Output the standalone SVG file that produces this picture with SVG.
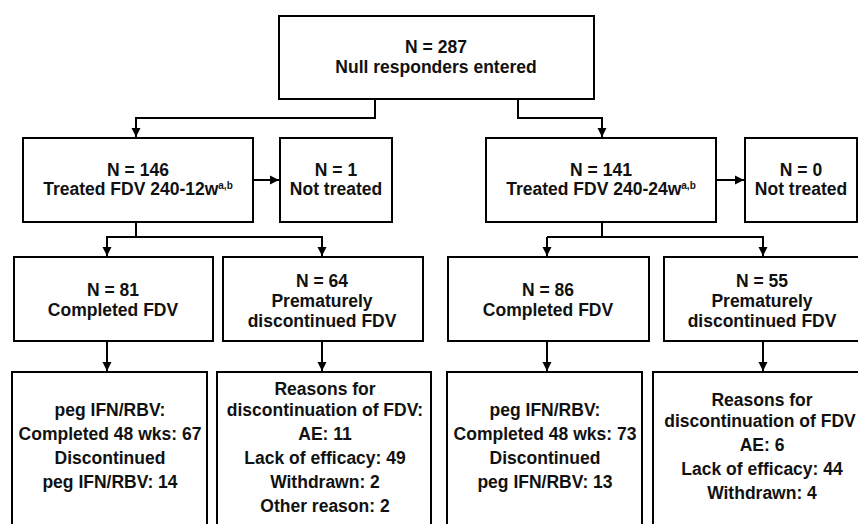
<svg xmlns="http://www.w3.org/2000/svg" width="858" height="524" viewBox="0 0 858 524">
<defs>
<marker id="ah" markerUnits="userSpaceOnUse" markerWidth="10" markerHeight="10" refX="9" refY="5" orient="auto">
<path d="M0,0.5 L9,5 L0,9.5 Z" fill="#000"/>
</marker>
<style>
.box{fill:#fff;stroke:#000;stroke-width:2}
.t{font-family:"Liberation Sans",Arial,sans-serif;font-weight:bold;font-size:17.5px;fill:#111;text-anchor:middle}
.sup{font-size:10px}
.c{fill:none;stroke:#000;stroke-width:2}
</style>
</defs>
<rect width="858" height="524" fill="#fff"/>
<g id="connectors">
<path class="c" d="M375,100 V118 H136 V137" marker-end="url(#ah)"/>
<path class="c" d="M518,100 V118 H602 V137" marker-end="url(#ah)"/>
<path class="c" d="M253,180 H279" marker-end="url(#ah)"/>
<path class="c" d="M716,180 H744" marker-end="url(#ah)"/>
<path class="c" d="M136,222 V237"/>
<path class="c" d="M107,256 V237 H322 V256" marker-end="url(#ah)"/>
<path class="c" d="M107,237 V256" marker-end="url(#ah)"/>
<path class="c" d="M602,222 V237"/>
<path class="c" d="M547,237 H763 V256" marker-end="url(#ah)"/>
<path class="c" d="M547,237 V256" marker-end="url(#ah)"/>
<path class="c" d="M107,341 V371" marker-end="url(#ah)"/>
<path class="c" d="M322,341 V371" marker-end="url(#ah)"/>
<path class="c" d="M547,341 V371" marker-end="url(#ah)"/>
<path class="c" d="M763,341 V371" marker-end="url(#ah)"/>
</g>
<g id="n287">
<rect class="box" x="279" y="16" width="315" height="83"/>
<text class="t" x="436" y="53">N = 287</text>
<text class="t" x="436" y="73">Null responders entered</text>
</g>
<g id="n146">
<rect class="box" x="23" y="138" width="230" height="84"/>
<text class="t" x="138" y="176">N = 146</text>
<text class="t" x="138" y="195">Treated FDV 240-12w<tspan class="sup" dy="-6">a,b</tspan></text>
</g>
<g id="n1">
<rect class="box" x="280" y="138" width="112" height="84"/>
<text class="t" x="336" y="176">N = 1</text>
<text class="t" x="336" y="195">Not treated</text>
</g>
<g id="n141">
<rect class="box" x="486" y="138" width="230" height="84"/>
<text class="t" x="601" y="176">N = 141</text>
<text class="t" x="601" y="195">Treated FDV 240-24w<tspan class="sup" dy="-6">a,b</tspan></text>
</g>
<g id="n0">
<rect class="box" x="745" y="138" width="112" height="84"/>
<text class="t" x="801" y="176">N = 0</text>
<text class="t" x="801" y="195">Not treated</text>
</g>
<g id="n81">
<rect class="box" x="14" y="257" width="199" height="84"/>
<text class="t" x="113" y="296">N = 81</text>
<text class="t" x="113" y="316">Completed FDV</text>
</g>
<g id="n64">
<rect class="box" x="223" y="257" width="200" height="84"/>
<text class="t" x="322" y="287">N = 64</text>
<text class="t" x="322" y="307">Prematurely</text>
<text class="t" x="322" y="327">discontinued FDV</text>
</g>
<g id="n86">
<rect class="box" x="448" y="257" width="201" height="84"/>
<text class="t" x="548" y="296">N = 86</text>
<text class="t" x="548" y="316">Completed FDV</text>
</g>
<g id="n55">
<rect class="box" x="664" y="257" width="200" height="84"/>
<text class="t" x="762" y="287">N = 55</text>
<text class="t" x="762" y="307">Prematurely</text>
<text class="t" x="762" y="327">discontinued FDV</text>
</g>
<g id="b1">
<rect class="box" x="12" y="372" width="195" height="170"/>
<text class="t" x="110" y="416">peg IFN/RBV:</text>
<text class="t" x="110" y="440">Completed 48 wks: 67</text>
<text class="t" x="110" y="464">Discontinued</text>
<text class="t" x="110" y="488">peg IFN/RBV: 14</text>
</g>
<g id="b2">
<rect class="box" x="217" y="372" width="214" height="170"/>
<text class="t" x="325" y="395">Reasons for</text>
<text class="t" x="325" y="416">discontinuation of FDV:</text>
<text class="t" x="325" y="440">AE: 11</text>
<text class="t" x="325" y="464">Lack of efficacy: 49</text>
<text class="t" x="325" y="488">Withdrawn: 2</text>
<text class="t" x="325" y="512">Other reason: 2</text>
</g>
<g id="b3">
<rect class="box" x="447" y="372" width="195" height="170"/>
<text class="t" x="545" y="416">peg IFN/RBV:</text>
<text class="t" x="545" y="440">Completed 48 wks: 73</text>
<text class="t" x="545" y="464">Discontinued</text>
<text class="t" x="545" y="488">peg IFN/RBV: 13</text>
</g>
<g id="b4">
<rect class="box" x="653" y="372" width="224" height="170"/>
<text class="t" x="762" y="406">Reasons for</text>
<text class="t" x="760" y="427">discontinuation of FDV</text>
<text class="t" x="762" y="451">AE: 6</text>
<text class="t" x="762" y="475">Lack of efficacy: 44</text>
<text class="t" x="762" y="499">Withdrawn: 4</text>
</g>
</svg>
